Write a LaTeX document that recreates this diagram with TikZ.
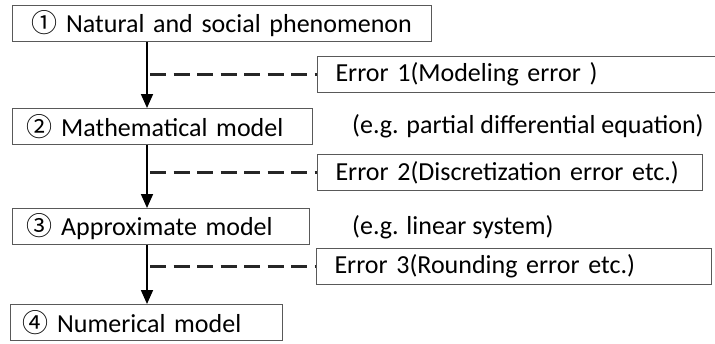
\documentclass[tikz,border=0pt]{standalone}
\usepackage{fontspec}
\setmainfont{Carlito}
\newfontfamily\circfont{Noto Sans CJK JP}
\usetikzlibrary{arrows.meta}
\newcommand{\circnum}[1]{{\circfont #1}}
\begin{document}
\begin{tikzpicture}[x=1pt, y=-1pt,
    every node/.style={font=\fontsize{26}{30}\selectfont, text=black},
    model/.style={draw=black!65, line width=1pt, anchor=north west, minimum height=36pt, inner xsep=14pt, inner ysep=0pt, align=left},
    errbox/.style={draw=black!65, line width=1pt, anchor=north west, minimum height=36pt, inner xsep=18pt, inner ysep=0pt, align=left},
    flow/.style={-{Triangle[width=12pt,length=14pt]}, line width=1.7pt},
    errlink/.style={draw=black!85, line width=2.2pt, dash pattern=on 16pt off 7.5pt}]
    \useasboundingbox (0,0) rectangle (715,343);

    % Models
    \node[model, text width=397pt, inner xsep=11pt] (pheno) at (12,5) {\hspace*{8pt}\circnum{①} Natural and social phenomenon};
    \node[model, text width=272pt] (mathmodel) at (12,108) {\circnum{②} Mathematical model};
    \node[model, text width=269pt] (approxmodel) at (12,208) {\circnum{③} Approximate model};
    \node[model, text width=248pt, inner xsep=12pt] (nummodel) at (10,304) {\circnum{④} Numerical model};

    % Errors
    \node[errbox, text width=370pt] (errone) at (317,56) {Error 1(Modeling error )};
    \node[errbox, text width=349pt] (errtwo) at (317,154) {Error 2(Discretization error etc.)};
    \node[errbox, text width=359pt] (errthree) at (316,248) {Error 3(Rounding error etc.)};

    % Examples
    \node[anchor=west, inner sep=0pt] (noteone) at (352,126) {(e.g. partial differential equation)};
    \node[anchor=west, inner sep=0pt] (notetwo) at (352,227) {(e.g. linear system)};

    % Flow
    \coordinate (spine) at (147,0);
    \draw[flow] (pheno.south -| spine) -- (mathmodel.north -| spine) coordinate[pos=0] (s1);
    \draw[flow] (mathmodel.south -| spine) -- (approxmodel.north -| spine) coordinate[pos=0] (s2);
    \draw[flow] (approxmodel.south -| spine) -- (nummodel.north -| spine) coordinate[pos=0] (s3);

    % Error links
    \draw[errlink] ([xshift=3pt]errone.west -| s1) -- (errone.west);
    \draw[errlink] ([xshift=3pt]errtwo.west -| s2) -- (errtwo.west);
    \draw[errlink] ([xshift=3pt]errthree.west -| s3) -- (errthree.west);
\end{tikzpicture}
\end{document}
